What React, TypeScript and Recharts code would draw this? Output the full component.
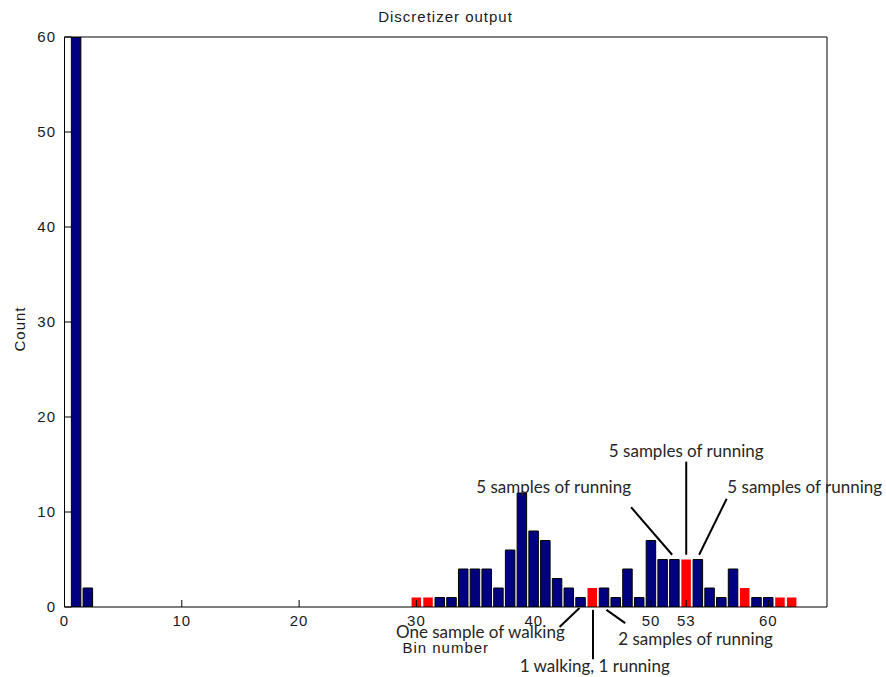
import { BarChart, Bar, XAxis, YAxis, Cell, ReferenceLine, ReferenceDot, Label } from 'recharts';

// histogram of discretizer bins (empty bins left out)
const bins = [1, 2, 30, 31, 32, 33, 34, 35, 36, 37, 38, 39, 40, 41, 42, 43, 44, 45, 46, 47, 48, 49, 50, 51, 52, 53, 54, 55, 56, 57, 58, 59, 60, 61, 62];
const counts = [60, 2, 1, 1, 1, 1, 4, 4, 4, 2, 6, 12, 8, 7, 3, 2, 1, 2, 2, 1, 4, 1, 7, 5, 5, 5, 5, 2, 1, 4, 2, 1, 1, 1, 1];
const redBins = [30, 31, 45, 53, 58, 61, 62];

const xTicks = [0, 10, 20, 30, 40, 50, 53, 60];
const yTicks = [0, 10, 20, 30, 40, 50, 60];

// callouts: text anchor (tx, ty) and leader line (x1,y1 -> x2,y2), in data units
const notes = [
    { text: '5 samples of running', tx: 53, ty: 15.8, x1: 53, y1: 5.5, x2: 53, y2: 15.3 },
    { text: '5 samples of running', tx: 41.7, ty: 12.0, x1: 51.8, y1: 5.5, x2: 48.3, y2: 10.5 },
    { text: '5 samples of running', tx: 63.1, ty: 12.0, x1: 54.1, y1: 5.5, x2: 56.45, y2: 11.4 },
    { text: 'One sample of walking', tx: 35.45, ty: -3.25, x1: 43.9, y1: -0.1, x2: 42.2, y2: -2.1 },
    { text: '1 walking, 1 running', tx: 45.2, ty: -6.8, x1: 45.05, y1: -0.3, x2: 45.05, y2: -5.5 },
    { text: '2 samples of running', tx: 53.8, ty: -4.05, x1: 46.2, y1: -0.3, x2: 47.8, y2: -1.7 },
];

const data = bins.map((bin, i) => ({ bin, count: counts[i] }));

const axisFont = { fill: '#1a1a1a', fontSize: 15, letterSpacing: 1, fontFamily: '"Liberation Sans", Arial, sans-serif' };

function CountLabel(props: any) {
    const vb = props.viewBox;
    const cx = vb.x + 25;
    const cy = vb.y + vb.height / 2 + 7;
    return (
        <text x={cx} y={cy} transform={`rotate(-90 ${cx} ${cy})`} textAnchor="middle" {...axisFont}>
            Count
        </text>
    );
}

export default function App() {
    return (
        <div style={{ position: 'relative', width: 886, height: 677, background: '#fff' }}>
            <style>{'body { margin: 0; }'}</style>
            <div
                style={{
                    position: 'absolute', top: 8, left: 0, width: 891, textAlign: 'center',
                    fontSize: 15, lineHeight: '18px', letterSpacing: 1, color: '#1a1a1a',
                    fontFamily: '"Liberation Sans", Arial, sans-serif',
                }}
            >
                Discretizer output
            </div>
            <BarChart width={886} height={677} data={data} margin={{ top: 0, right: 0, bottom: 0, left: 0 }} barSize={9.5}>
                <XAxis xAxisId="top" orientation="top" type="number" dataKey="bin" domain={[0, 65]} ticks={xTicks}
                    height={37} tick={false} tickSize={-7} stroke="#000" allowDataOverflow interval={0} />
                <XAxis type="number" dataKey="bin" domain={[0, 65]} ticks={xTicks} height={70} interval={0}
                    tickSize={-7} tickMargin={15} stroke="#000" tick={axisFont} allowDataOverflow>
                    <Label value="Bin number" position="insideBottom" offset={24} {...axisFont} />
                </XAxis>
                <YAxis domain={[0, 60]} ticks={yTicks} width={64.5} tickSize={-7} tickMargin={15.5} interval={0}
                    stroke="#000" tick={axisFont} allowDataOverflow>
                    <Label content={<CountLabel />} />
                </YAxis>
                <YAxis yAxisId="right" orientation="right" domain={[0, 60]} ticks={yTicks} width={59} interval={0}
                    tickSize={-7} tick={false} stroke="#000" allowDataOverflow />
                <Bar dataKey="count" isAnimationActive={false}>
                    {data.map((d) => {
                        const red = redBins.includes(d.bin);
                        return <Cell key={d.bin} fill={red ? '#ff0000' : '#000080'} stroke={red ? 'none' : '#000'} strokeWidth={1} />;
                    })}
                </Bar>
                {notes.map((n, i) => (
                    <ReferenceLine key={'line' + i} segment={[{ x: n.x1, y: n.y1 }, { x: n.x2, y: n.y2 }]}
                        stroke="#000" strokeWidth={2} ifOverflow="visible" />
                ))}
                {notes.map((n, i) => (
                    <ReferenceDot key={'note' + i} x={n.tx} y={n.ty} r={0} ifOverflow="visible"
                        shape={(p: any) => (
                            <text x={p.cx} y={p.cy} textAnchor="middle" fontFamily="Lato, sans-serif" fontSize={17} fill="#262626">
                                {n.text}
                            </text>
                        )}
                    />
                ))}
            </BarChart>
        </div>
    );
}
